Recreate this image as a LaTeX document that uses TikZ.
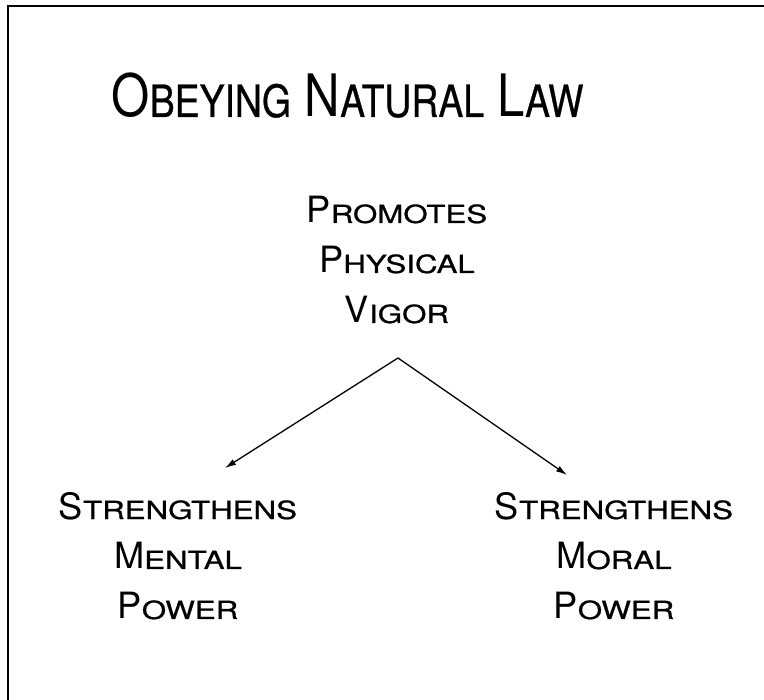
\documentclass[tikz,border=0pt]{standalone}
\usepackage{fontspec}
\usetikzlibrary{arrows.meta}
\newfontfamily\headfont[FakeStretch=0.84]{TeX Gyre Heros}
\newfontfamily\headsmallfont[FakeStretch=0.84,FakeBold=0.6]{TeX Gyre Heros}
\newfontfamily\capfont{TeX Gyre Heros}
\newfontfamily\smallcapfont[FakeStretch=1.25,FakeBold=0.9]{TeX Gyre Heros}
\def\headcap#1#2{{\headfont\fontsize{58.5}{60}\selectfont #1}{\headsmallfont\fontsize{44.5}{60}\selectfont #2}}
\def\smcap#1#2{{\capfont\fontsize{36.2}{50}\selectfont #1}{\smallcapfont\fontsize{25}{50}\selectfont #2}}

\begin{document}
\begin{tikzpicture}[x=1pt,y=-1pt]
	\tikzset{blocktext/.style={inner sep=0pt, anchor=base, align=center, font=\capfont\fontsize{36.2}{50}\selectfont},
		branch/.style={-{Latex[length=11pt,width=6.5pt]}, line width=1.3pt}}
	%%%%% START %%%%%
	
	\useasboundingbox (0,0) rectangle (764,700);
	\draw[line width=2pt] (8,700) -- (8,6) -- (764,6);
	
	\node[inner sep=0pt, anchor=base, font=\headfont\fontsize{58.5}{60}\selectfont] (title) at (347.5,117) {\headcap{O}{BEYING} \headcap{N}{ATURAL} \headcap{L}{AW}};
	
	% base anchor sits on the last line
	\node[blocktext] (vigor) at (397,323) {\smcap{P}{ROMOTES}\\\smcap{P}{HYSICAL}\\\smcap{V}{IGOR}};
	\node[blocktext] (mental) at (178,619) {\smcap{S}{TRENGTHENS}\\\smcap{M}{ENTAL}\\\smcap{P}{OWER}};
	\node[blocktext] (moral) at (614,619) {\smcap{S}{TRENGTHENS}\\\smcap{M}{ORAL}\\\smcap{P}{OWER}};
	
	\coordinate (fork) at (398,358);
	\coordinate (mentaltip) at (225,468);
	\coordinate (moraltip) at (567,475);
	\draw[branch] (fork) -- (mentaltip);
	\draw[branch] (fork) -- (moraltip);
	
	%%%%% END %%%%%
\end{tikzpicture}
\end{document}
